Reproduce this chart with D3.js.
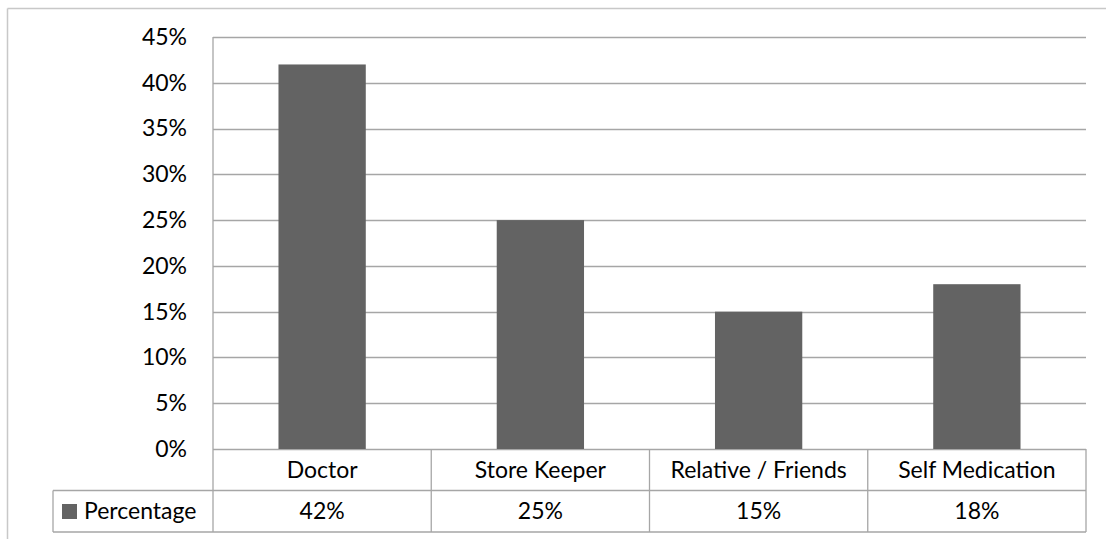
<!DOCTYPE html>
<html>
<head>
<meta charset="utf-8">
<script src="https://cdn.jsdelivr.net/npm/d3@7"></script>
<style>
  html, body { margin: 0; padding: 0; background: #fff; }
  svg { display: block; font-family: Lato, "Open Sans", sans-serif; }
</style>
</head>
<body>
<svg id="chart" width="1106" height="539"></svg>
<script>
// Chart data
const categories = ["Doctor", "Store Keeper", "Relative / Friends", "Self Medication"];
const seriesName = "Percentage";
const values = [42, 25, 15, 18];
const yTicks = [0, 5, 10, 15, 20, 25, 30, 35, 40, 45];

const svg = d3.select("#chart");
const W = 1106, H = 539;
const fontSize = 23;

// Layout
const plot = { left: 213, right: 1086, top: 37, bottom: 449 };
const rowH = 41.5;
const legendLeft = 53;

const x = d3.scaleBand().domain(categories).range([plot.left, plot.right]).paddingInner(0.6).paddingOuter(0.3);
const xCell = d3.scaleBand().domain(categories).range([plot.left, plot.right]);
const y = d3.scaleLinear().domain([0, 45]).range([plot.bottom, plot.top]);

const gridColor = "#a6a6a6";
const barColor = "#636363";
const textColor = "#000";

// Outer chart frame (top and left edges visible)
svg.append("line").attr("x1", 7.5).attr("x2", W).attr("y1", 8.5).attr("y2", 8.5)
  .attr("stroke", "#c8c8c8").attr("stroke-width", 1.5);
svg.append("line").attr("x1", 7.5).attr("x2", 7.5).attr("y1", 8.5).attr("y2", 539)
  .attr("stroke", "#c8c8c8").attr("stroke-width", 1.5);

// Horizontal gridlines
svg.append("g").selectAll("line").data(yTicks).join("line")
  .attr("x1", plot.left).attr("x2", plot.right)
  .attr("y1", d => Math.round(y(d)) + 0.5).attr("y2", d => Math.round(y(d)) + 0.5)
  .attr("stroke", gridColor).attr("stroke-width", 1.3);

// Y axis tick labels
const yAxis = d3.axisLeft(y).tickValues(yTicks).tickFormat(d => d + "%").tickSize(0).tickPadding(26);
const gy = svg.append("g").attr("transform", `translate(${plot.left},0)`).call(yAxis);
gy.select(".domain").remove();
gy.selectAll("text").attr("font-size", fontSize).attr("fill", textColor)
  .attr("font-family", "Lato, 'Open Sans', sans-serif");

// Bars
svg.append("g").selectAll("rect").data(values).join("rect")
  .attr("x", (d, i) => x(categories[i]))
  .attr("width", x.bandwidth())
  .attr("y", d => y(d))
  .attr("height", d => y(0) - y(d))
  .attr("fill", barColor);

// Data table
const tableTop = plot.bottom;
const row1 = tableTop + rowH;
const row2 = row1 + rowH;
const tg = svg.append("g").attr("stroke", gridColor).attr("stroke-width", 1.3);

// Vertical axis line through the table
tg.append("line").attr("x1", plot.left).attr("x2", plot.left).attr("y1", plot.top).attr("y2", row2);
// Column separators
tg.selectAll("line.col").data(categories).join("line").attr("class", "col")
  .attr("x1", d => xCell(d) + xCell.bandwidth()).attr("x2", d => xCell(d) + xCell.bandwidth())
  .attr("y1", tableTop).attr("y2", row2);
// Row lines
tg.append("line").attr("x1", legendLeft).attr("x2", plot.right).attr("y1", row1).attr("y2", row1);
tg.append("line").attr("x1", legendLeft).attr("x2", plot.right).attr("y1", row2).attr("y2", row2);
tg.append("line").attr("x1", legendLeft).attr("x2", legendLeft).attr("y1", row1).attr("y2", row2);

// Category labels
svg.append("g").selectAll("text").data(categories).join("text")
  .attr("x", d => xCell(d) + xCell.bandwidth() / 2)
  .attr("y", tableTop + rowH / 2)
  .attr("dy", "0.35em")
  .attr("text-anchor", "middle")
  .attr("font-size", fontSize).attr("fill", textColor)
  .text(d => d);

// Value row
svg.append("g").selectAll("text").data(values).join("text")
  .attr("x", (d, i) => xCell(categories[i]) + xCell.bandwidth() / 2)
  .attr("y", row1 + rowH / 2)
  .attr("dy", "0.35em")
  .attr("text-anchor", "middle")
  .attr("font-size", fontSize).attr("fill", textColor)
  .text(d => d + "%");

// Legend key inside the table
svg.append("rect").attr("x", 62).attr("y", row1 + 13.5).attr("width", 15).attr("height", 15).attr("fill", barColor);
svg.append("text").attr("x", 84).attr("y", row1 + rowH / 2).attr("dy", "0.35em")
  .attr("font-size", fontSize).attr("fill", textColor).text(seriesName);
</script>
</body>
</html>
